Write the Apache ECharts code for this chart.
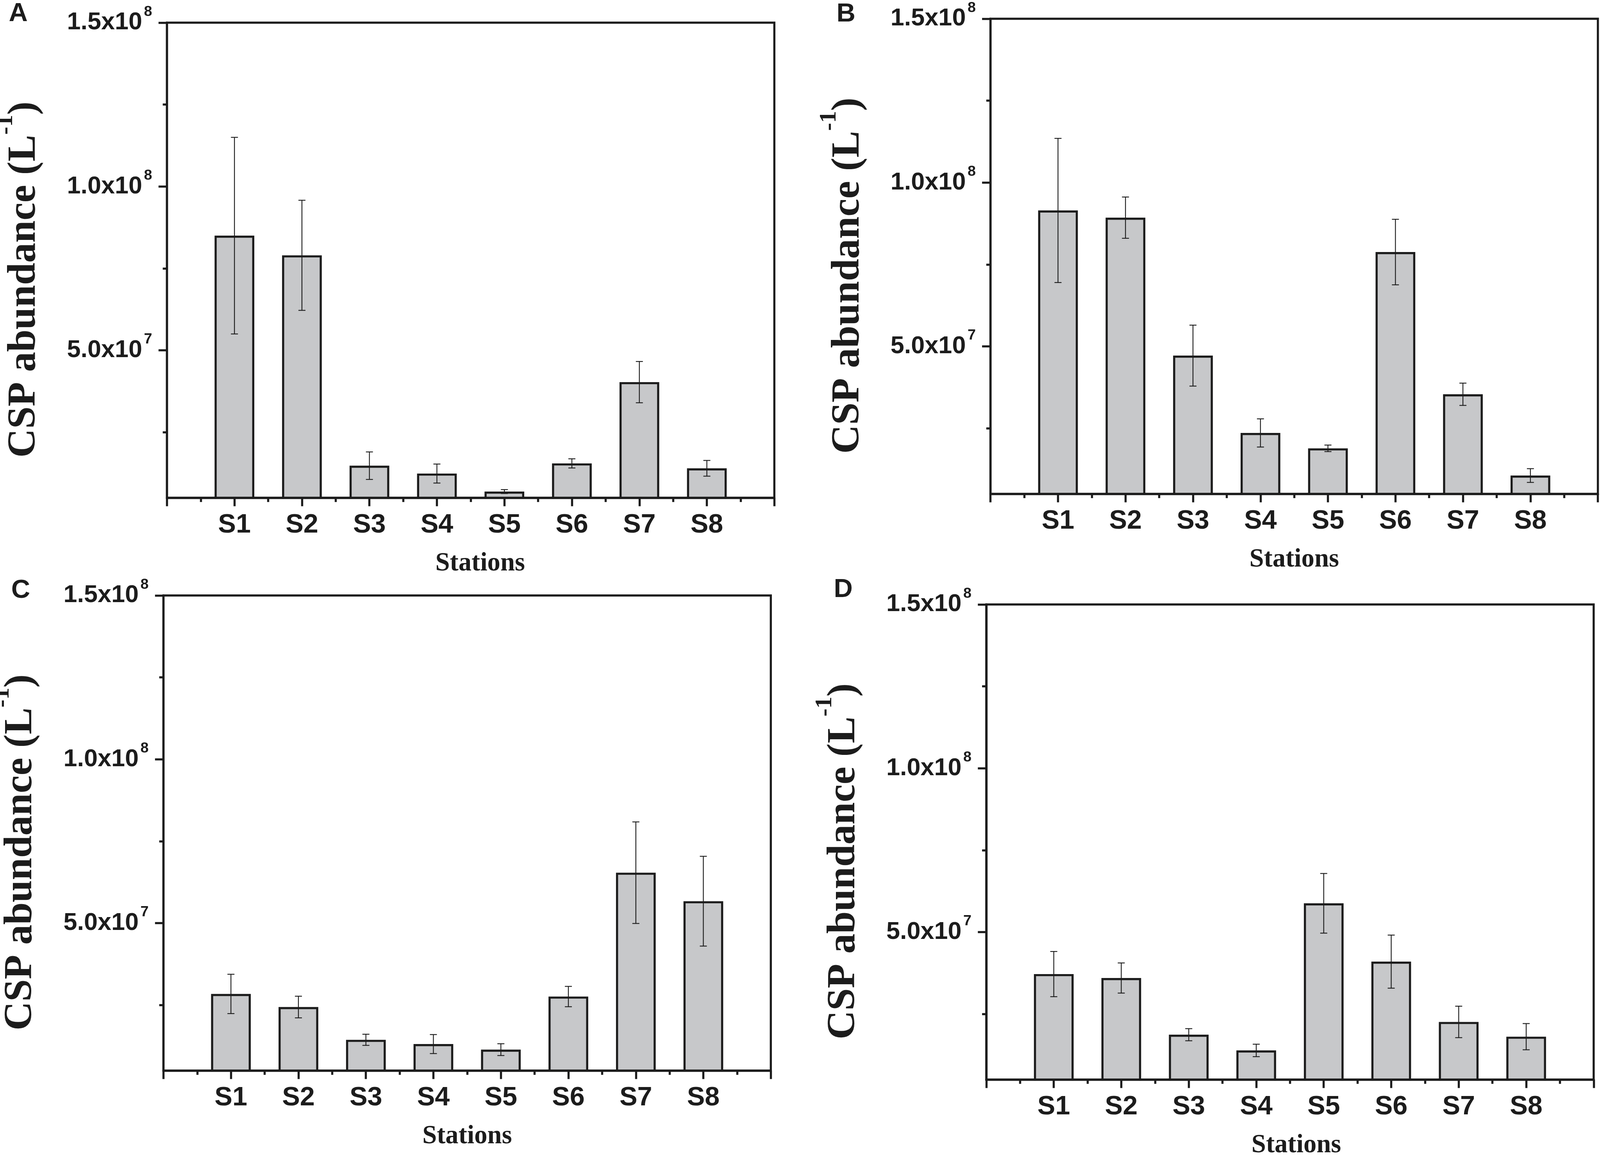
<!DOCTYPE html>
<html>
<head>
<meta charset="utf-8">
<title>CSP abundance by station</title>
<script src="https://cdn.jsdelivr.net/npm/echarts@6/dist/echarts.min.js"></script>
<style>
  html, body { margin: 0; padding: 0; background: #fff; overflow: hidden; }
  #chart { width: 100vw; height: 100vh; }
</style>
</head>
<body>
<div id="chart"></div>
<script>
// ---- data (cells L^-1) ----
const stations = ['S1', 'S2', 'S3', 'S4', 'S5', 'S6', 'S7', 'S8'];

const abundanceA = [8.50e7, 7.90e7, 1.48e7, 1.24e7, 6.9e6, 1.55e7, 4.03e7, 1.40e7];
const errorA     = [3.00e7, 1.68e7, 4.2e6, 2.9e6, 6.0e5, 1.4e6, 6.3e6, 2.4e6];

const abundanceB = [9.15e7, 8.93e7, 4.72e7, 2.36e7, 1.89e7, 7.88e7, 3.54e7, 1.06e7];
const errorB     = [2.20e7, 6.3e6, 9.3e6, 4.3e6, 1.0e6, 1.00e7, 3.4e6, 2.1e6];

const abundanceC = [2.84e7, 2.44e7, 1.44e7, 1.31e7, 1.14e7, 2.76e7, 6.54e7, 5.67e7];
const errorC     = [6.0e6, 3.3e6, 1.7e6, 2.9e6, 1.8e6, 3.1e6, 1.55e7, 1.37e7];

const abundanceD = [3.72e7, 3.60e7, 1.87e7, 1.39e7, 5.88e7, 4.10e7, 2.26e7, 1.81e7];
const errorD     = [6.9e6, 4.6e6, 1.85e6, 1.9e6, 9.1e6, 8.1e6, 4.8e6, 4.0e6];

// y axis ticks and labels
const yMin = 5e6;
const yMax = 1.5e8;
const yLabelValues = [5e7, 1e8, 1.5e8];
const yLabelMantissa = ['5.0x10', '1.0x10', '1.5x10'];
const yLabelExponent = ['7', '8', '8'];
const yMinorTicks = [2.5e7, 7.5e7, 1.25e8];

const panels = [
  { letter: 'A', values: abundanceA, errors: errorA },
  { letter: 'B', values: abundanceB, errors: errorB },
  { letter: 'C', values: abundanceC, errors: errorC },
  { letter: 'D', values: abundanceD, errors: errorD }
];

// panel placement, in pixels of the 4552 x 2956 original figure
const REF_W = 4552, REF_H = 2956;
const layout = [
  { left: 475,  top: 58,   letterX: 25,   letterY: 2,    nameShift: 54 },
  { left: 2818, top: 48,   letterX: 2380, letterY: 3,    nameShift: 0 },
  { left: 465,  top: 1524, letterX: 32,   letterY: 1478, nameShift: 0 },
  { left: 2806, top: 1547, letterX: 2372, letterY: 1476, nameShift: 36 }
];

const INK = '#1c1c1c';
const BAR_FILL = '#c7c8ca';
const SANS = '"Liberation Sans", Arial, Helvetica, sans-serif';
const SERIF = '"Liberation Serif", "Times New Roman", serif';

const chart = echarts.init(document.getElementById('chart'), null, { renderer: 'canvas' });
const sx = chart.getWidth() / REF_W;
const sy = chart.getHeight() / REF_H;
const s = Math.min(sx, sy);   // size scale for fonts, strokes

function yLabel(v) {
  for (let k = 0; k < yLabelValues.length; k++) {
    if (Math.abs(v - yLabelValues[k]) < 1) {
      return '{b|' + yLabelMantissa[k] + '}{s|' + yLabelExponent[k] + '}';
    }
  }
  return '';
}

function errorBar(params, api) {
  const x = api.value(0);
  const m = api.value(1);
  const e = api.value(2);
  const hi = api.coord([x, m + e]);
  const lo = api.coord([x, m - e]);
  const cap = 10 * s;
  const style = { stroke: INK, lineWidth: 2.5 * s };
  return {
    type: 'group',
    children: [
      { type: 'line', shape: { x1: hi[0], y1: hi[1], x2: lo[0], y2: lo[1] }, style },
      { type: 'line', shape: { x1: hi[0] - cap, y1: hi[1], x2: hi[0] + cap, y2: hi[1] }, style },
      { type: 'line', shape: { x1: lo[0] - cap, y1: lo[1], x2: lo[0] + cap, y2: lo[1] }, style }
    ]
  };
}

const grids = [], xAxes = [], yAxes = [], series = [], letters = [];
const lw = 6 * s;

panels.forEach((p, i) => {
  const L = layout[i];

  grids.push({
    left: L.left * sx, top: L.top * sy, width: 1728 * sx, height: 1216 * sy,
    show: true, borderColor: INK, borderWidth: lw,
    containLabel: false, outerBoundsMode: 'none'
  });

  xAxes.push({
    type: 'value', gridIndex: i, position: 'bottom',
    min: 0, max: 9, interval: 1,
    axisLine: { onZero: false, lineStyle: { color: INK, width: lw } },
    axisTick: { length: 24 * s, lineStyle: { color: INK, width: lw } },
    minorTick: { show: true, splitNumber: 2, length: 12 * s, lineStyle: { color: INK, width: lw } },
    splitLine: { show: false },
    minorSplitLine: { show: false },
    axisLabel: {
      margin: 40 * s, color: INK, fontFamily: SANS, fontWeight: 'bold', fontSize: 76 * s,
      formatter: v => (v >= 1 && v <= 8 ? stations[v - 1] : '')
    },
    name: 'Stations', nameLocation: 'middle', nameGap: 150 * s, nameMoveOverlap: false,
    nameTextStyle: {
      fontFamily: SERIF, fontWeight: 'bold', fontSize: 74 * s, color: INK,
      padding: [0, 0, 0, L.nameShift * s]
    }
  });

  // main y axis: line, labelled ticks, title
  yAxes.push({
    type: 'value', gridIndex: i, position: 'left',
    min: yMin, max: yMax,
    axisLine: { show: true, onZero: false, lineStyle: { color: INK, width: lw } },
    axisTick: { show: true, customValues: yLabelValues, length: 24 * s, lineStyle: { color: INK, width: lw } },
    splitLine: { show: false },
    axisLabel: {
      customValues: yLabelValues, margin: 42 * s, formatter: yLabel,
      rich: {
        b: { fontFamily: SANS, fontWeight: 'bold', fontSize: 70 * s, color: INK, lineHeight: 104 * s, verticalAlign: 'middle' },
        s: { fontFamily: SANS, fontWeight: 'bold', fontSize: 42 * s, color: INK, lineHeight: 42 * s, verticalAlign: 'top', padding: [0, 0, 0, 5 * s] }
      }
    },
    name: '{t|CSP abundance (L}{s|-1}{t|)}',
    nameLocation: 'middle', nameRotate: 90, nameGap: 318 * s, nameMoveOverlap: false,
    nameTextStyle: {
      padding: [0, 110 * s, 0, 0],
      rich: {
        t: { fontFamily: SERIF, fontWeight: 'bold', fontSize: 114 * s, color: INK, lineHeight: 174 * s, verticalAlign: 'middle' },
        s: { fontFamily: SERIF, fontWeight: 'bold', fontSize: 68 * s, color: INK, lineHeight: 68 * s, verticalAlign: 'top' }
      }
    }
  });

  // second y axis only for the short unlabelled ticks
  yAxes.push({
    type: 'value', gridIndex: i, position: 'left',
    min: yMin, max: yMax,
    axisLine: { show: false },
    axisTick: { show: true, customValues: yMinorTicks, length: 12 * s, lineStyle: { color: INK, width: lw } },
    axisLabel: { show: false },
    splitLine: { show: false }
  });

  series.push({
    type: 'bar', xAxisIndex: i, yAxisIndex: i * 2,
    barWidth: 113 * sx, silent: true,
    itemStyle: { color: BAR_FILL, borderColor: INK, borderWidth: lw },
    data: p.values.map((v, k) => [k + 1, v])
  });

  series.push({
    type: 'custom', xAxisIndex: i, yAxisIndex: i * 2,
    silent: true, z: 10,
    renderItem: errorBar,
    data: p.values.map((v, k) => [k + 1, v, p.errors[k]])
  });

  letters.push({
    type: 'text', left: L.letterX * sx, top: L.letterY * sy,
    style: { text: p.letter, font: 'bold ' + Math.round(74 * s) + 'px ' + SANS, fill: INK }
  });
});

chart.setOption({
  animation: false,
  backgroundColor: '#ffffff',
  grid: grids,
  xAxis: xAxes,
  yAxis: yAxes,
  series: series,
  graphic: letters
});
</script>
</body>
</html>
